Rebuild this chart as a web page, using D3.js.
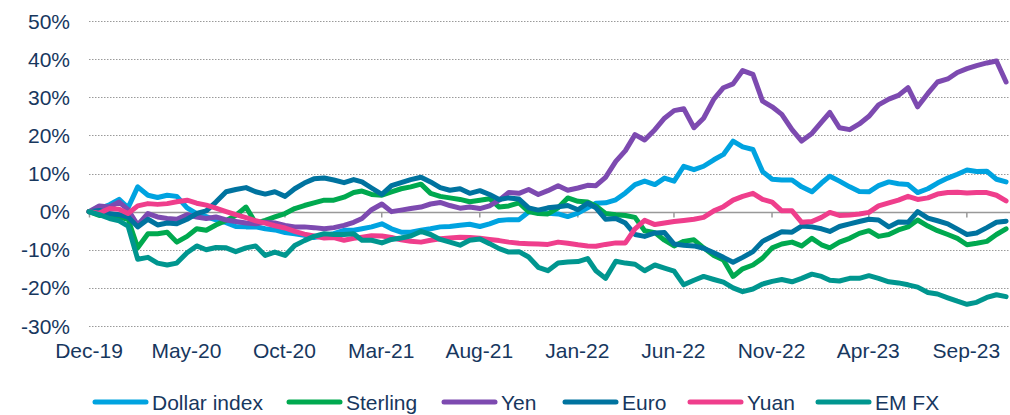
<!DOCTYPE html>
<html>
<head>
<meta charset="utf-8">
<script src="https://cdn.jsdelivr.net/npm/d3@7"></script>
<style>
  body { margin: 0; background: #fff; }
  svg text { font-family: "Liberation Sans", Arial, sans-serif; fill: #17375e; }
</style>
</head>
<body>
<div id="chart"></div>
<script>
// half-monthly observations, Dec-19 to Dec-23 (% change since 31 Dec 2019)
const dates = [new Date(2019, 11, 31)];
for (let m = 0; dates.length < 95; m++) {
    if (m > 0) dates.push(new Date(2020, m, 1));
    if (dates.length < 95) dates.push(new Date(2020, m, 16));
}

const dollarIndex = [0, 0.8, 1.8, 3.2, 1.0, 6.5, 4.3, 3.7, 4.3, 4.0, 1.0, -0.5, -1.3, -2.2, -2.9, -3.9, -4.0, -4.0, -4.5, -4.8,
    -5.5, -5.8, -6.2, -6.8, -6.3, -5.8, -4.9, -4.9, -4.5, -4.0, -3.2, -4.5, -5.4, -5.4, -4.9, -4.5, -4.0, -3.9, -3.6, -3.3,
    -3.9, -3.2, -2.3, -2.1, -2.1, -0.1, 0.3, -0.4, -0.6, -1.3, -0.4, 1.0, 2.2, 2.3, 3.1, 4.9, 7.1, 8.0, 7.1, 8.8,
    8.0, 11.9, 11.0, 11.9, 13.6, 15.0, 18.5, 17.0, 16.3, 10.5, 8.5, 8.3, 8.3, 6.5, 5.2, 7.5, 9.3, 8.0, 6.5, 5.3,
    5.2, 6.8, 7.8, 7.3, 7.1, 5.0, 6.0, 7.5, 8.8, 9.8, 10.9, 10.5, 10.6, 8.5, 7.8];
const sterling = [0, -1.0, -0.8, -1.4, -2.0, -9.5, -5.8, -5.8, -5.4, -8.0, -6.5, -4.5, -4.9, -3.5, -2.3, -1.0, 1.2, -3.0, -2.3, -1.4,
    -0.5, 0.8, 1.6, 2.3, 3.0, 3.0, 3.8, 5.0, 5.4, 4.5, 4.3, 5.2, 6.0, 6.5, 7.2, 4.8, 4.0, 3.6, 3.2, 2.6,
    3.0, 3.4, 1.2, 1.5, 2.3, 0.0, -0.5, -0.6, 1.0, 3.6, 2.7, 2.5, 1.5, -0.5, -0.8, -1.0, -1.5, -5.0, -5.5, -7.5,
    -9.0, -7.8, -7.4, -9.5, -11.5, -12.7, -17.0, -15.0, -14.0, -12.2, -9.5, -8.5, -8.0, -9.0, -7.0, -8.7, -9.5, -8.0, -7.0, -5.7,
    -5.0, -6.5, -6.0, -4.8, -4.0, -2.2, -3.8, -5.0, -6.0, -7.0, -8.7, -8.3, -7.8, -6.0, -4.5];
const yen = [0, 1.5, 1.2, 2.5, 0.5, -3.5, -0.5, -1.4, -1.8, -2.0, -0.8, -1.4, -1.8, -1.4, -2.2, -2.6, -3.0, -3.2, -2.8, -3.0,
    -3.6, -4.0, -4.0, -4.2, -4.5, -4.2, -3.6, -2.8, -1.8, 0.5, 2.0, 0.0, 0.4, 0.8, 1.2, 2.0, 2.4, 1.6, 0.9, 1.2,
    0.8, 1.5, 3.0, 5.0, 4.8, 5.8, 4.5, 5.5, 6.8, 5.6, 6.2, 6.9, 6.8, 9.0, 13.2, 16.0, 20.2, 18.8, 21.5, 24.5,
    26.5, 27.0, 22.0, 24.5, 29.5, 32.5, 33.5, 37.0, 36.0, 29.0, 27.5, 25.5, 21.5, 18.5, 20.5, 23.5, 26.0, 22.0, 21.5, 23.0,
    25.0, 28.0, 29.5, 30.5, 32.5, 27.5, 31.0, 34.0, 34.8, 36.5, 37.5, 38.3, 39.0, 39.5, 34.0];
const euro = [0, 0.3, -0.5, -0.8, -1.4, -4.0, -2.0, -3.5, -3.0, -3.2, -2.0, -0.5, 0.2, 2.5, 5.2, 5.8, 6.3, 5.2, 4.6, 5.2,
    4.0, 6.0, 7.5, 8.6, 8.8, 8.3, 7.6, 8.4, 7.8, 6.2, 4.5, 6.8, 7.6, 8.4, 9.0, 7.8, 6.3, 5.6, 6.0, 4.8,
    5.5, 4.5, 3.2, 3.6, 3.3, 1.0, 0.4, 1.0, 1.3, 1.6, 0.5, 2.2, 1.0, -2.0, -1.8, -3.0, -6.0, -6.5, -5.6, -5.5,
    -8.5, -8.8, -9.0, -9.6, -10.8, -12.0, -13.3, -12.0, -10.5, -7.8, -6.5, -5.3, -5.4, -3.8, -4.0, -4.5, -5.2, -3.9, -3.2, -2.6,
    -2.0, -2.2, -4.0, -2.7, -2.8, 0.0, -1.7, -2.4, -3.2, -4.6, -6.0, -5.6, -4.2, -2.8, -2.5];
const yuan = [0, -0.4, 0.8, 0.6, -0.5, 1.5, 2.1, 1.9, 2.1, 2.6, 3.0, 2.2, 1.7, 0.9, 0.0, -0.8, -1.6, -2.4, -3.0, -3.7,
    -4.3, -5.2, -5.9, -6.4, -6.9, -6.8, -7.5, -7.0, -6.7, -6.3, -6.4, -6.8, -7.4, -7.8, -8.0, -7.5, -7.1, -6.9, -6.7, -6.8,
    -7.0, -7.3, -7.6, -8.0, -8.3, -8.4, -8.5, -8.6, -8.0, -8.3, -8.7, -9.0, -9.1, -8.6, -8.2, -8.2, -4.5, -2.3, -3.4, -3.0,
    -2.6, -2.3, -2.0, -1.5, 0.2, 1.3, 3.0, 4.0, 4.8, 3.2, 2.5, 0.2, 0.2, -2.8, -2.6, -1.5, -0.2, -1.0, -0.9, -0.6,
    -0.2, 1.5, 2.3, 3.0, 4.0, 3.2, 3.6, 4.6, 5.0, 5.1, 4.9, 5.0, 5.0, 4.3, 2.8];
const emFx = [0, -0.8, -1.8, -2.4, -3.8, -12.5, -12.0, -13.5, -14.0, -13.5, -10.8, -9.0, -10.0, -9.4, -9.5, -10.5, -9.5, -9.0, -11.5, -10.6,
    -11.5, -8.9, -7.6, -6.5, -5.8, -6.0, -6.0, -5.8, -7.5, -7.5, -8.2, -7.3, -6.9, -6.4, -5.2, -6.0, -7.3, -8.0, -8.8, -7.5,
    -7.2, -8.4, -9.7, -10.6, -10.5, -11.9, -14.6, -15.5, -13.5, -13.2, -13.1, -12.3, -15.5, -17.5, -13.0, -13.5, -13.8, -15.5, -14.0, -14.8,
    -15.6, -19.2, -18.0, -17.0, -17.8, -18.5, -20.0, -21.0, -20.3, -19.0, -18.3, -17.8, -18.4, -17.5, -16.4, -17.0, -18.0, -18.2, -17.5, -17.5,
    -16.8, -17.5, -18.4, -18.7, -19.2, -19.8, -21.2, -21.6, -22.6, -23.5, -24.3, -23.8, -22.5, -21.8, -22.3];

const seriesNames = ["Dollar index", "Sterling", "Yen", "Euro", "Yuan", "EM FX"];
const seriesValues = [dollarIndex, sterling, yen, euro, yuan, emFx];
const seriesColors = ["#00a3e0", "#00a94f", "#7d4ab0", "#00739f", "#ef3e8c", "#00968f"];

const yTicks = [-30, -20, -10, 0, 10, 20, 30, 40, 50];
const xTickDates = [new Date(2019, 11, 31), new Date(2020, 4, 31), new Date(2020, 9, 31), new Date(2021, 2, 31),
    new Date(2021, 7, 31), new Date(2022, 0, 31), new Date(2022, 5, 30), new Date(2022, 10, 30),
    new Date(2023, 3, 30), new Date(2023, 8, 30)];
const xTickLabels = ["Dec-19", "May-20", "Oct-20", "Mar-21", "Aug-21", "Jan-22", "Jun-22", "Nov-22", "Apr-23", "Sep-23"];

const width = 1010, height = 415;
const svg = d3.select("#chart").append("svg")
    .attr("width", width)
    .attr("height", height);

const x = d3.scaleTime()
    .domain([new Date(2019, 11, 31), new Date(2023, 11, 4)])
    .range([89, 1008]);
const y = d3.scaleLinear()
    .domain([-30, 50])
    .range([326, 21]);

// dotted gridlines
svg.append("g")
    .selectAll("line")
    .data(yTicks.filter(d => d !== 0))
    .enter()
    .append("line")
    .attr("x1", 89)
    .attr("x2", 1010)
    .attr("y1", d => Math.round(y(d)) + 0.5)
    .attr("y2", d => Math.round(y(d)) + 0.5)
    .attr("stroke", "#9a9a9a")
    .attr("stroke-width", 1)
    .attr("stroke-dasharray", "1.5,1.5");

// y labels
svg.append("g")
    .selectAll("text")
    .data(yTicks)
    .enter()
    .append("text")
    .attr("x", 70)
    .attr("y", d => y(d) + 7.5)
    .attr("text-anchor", "end")
    .style("font-size", "21px")
    .text(d => d + "%");

// zero axis with small ticks
const xAxis = d3.axisBottom(x)
    .tickValues(xTickDates)
    .tickSize(5)
    .tickFormat("");
const axisG = svg.append("g")
    .attr("transform", `translate(0,${Math.round(y(0)) + 0.5})`)
    .call(xAxis);
axisG.select(".domain").attr("stroke", "#999").attr("stroke-width", 1.5).attr("d", "M89,0H1010");
axisG.selectAll(".tick line").attr("stroke", "#999").attr("stroke-width", 1.5);

// x labels along the bottom
svg.append("g")
    .selectAll("text")
    .data(xTickDates)
    .enter()
    .append("text")
    .attr("x", d => x(d))
    .attr("y", 358)
    .attr("text-anchor", "middle")
    .style("font-size", "21px")
    .text((d, i) => xTickLabels[i]);

// lines
const line = d3.line()
    .x((d, i) => x(dates[i]))
    .y(d => y(d));

svg.append("g")
    .selectAll("path")
    .data(seriesValues)
    .enter()
    .append("path")
    .attr("d", d => line(d))
    .attr("fill", "none")
    .attr("stroke", (d, i) => seriesColors[i])
    .attr("stroke-width", 5)
    .attr("stroke-linejoin", "round")
    .attr("stroke-linecap", "round");

// legend (kept just inside the bottom edge)
const legendX = [93, 287, 442, 563, 688, 816];
const legend = svg.append("g")
    .selectAll("g")
    .data(seriesNames)
    .enter()
    .append("g")
    .attr("transform", (d, i) => `translate(${legendX[i]},402)`);
legend.append("line")
    .attr("x1", 2)
    .attr("x2", 53)
    .attr("stroke", (d, i) => seriesColors[i])
    .attr("stroke-width", 5)
    .attr("stroke-linecap", "round");
legend.append("text")
    .attr("x", 59)
    .attr("y", 7.5)
    .style("font-size", "21px")
    .text(d => d);
</script>
</body>
</html>
